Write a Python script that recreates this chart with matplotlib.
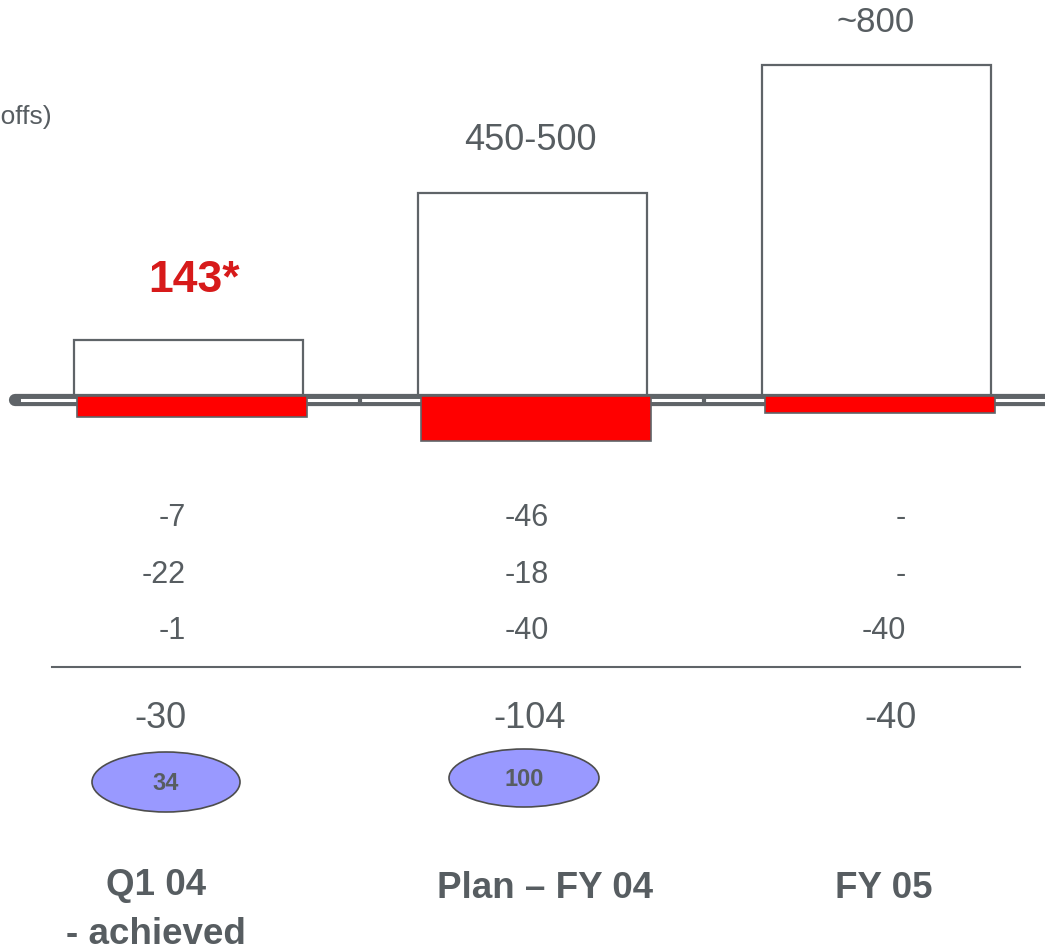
import matplotlib
matplotlib.use("Agg")
import matplotlib.pyplot as plt
from matplotlib.patches import Ellipse

plt.rcParams['font.family'] = ['Liberation Sans', 'DejaVu Sans']

# data
categories = ["Q1 04\n- achieved", "Plan \u2013 FY 04", "FY 05"]
bar_heights = [143, 518, 845]          # white bars (chart units)
bar_labels = ["143*", "450-500", "~800"]
red_heights = [-54, -115, -43]         # red bars below the axis
row1 = ["-7", "-46", "-"]
row2 = ["-22", "-18", "-"]
row3 = ["-1", "-40", "-40"]
totals = ["-30", "-104", "-40"]
bubbles = ["34", "100", None]

GRAY = "#575d61"
EDGE = "#5f6468"
RED_TXT = "#d71a1a"

W, H = 1045, 951
fig = plt.figure(figsize=(W / 100, H / 100), dpi=100)

# main axes: bars on a categorical x scale
k = 143 / 56.0
ax = fig.add_axes([0, 0, 1, 1])
ax.set_xlim(-188.5 / 344, (W - 188.5) / 344)
ax.set_ylim(-(H - 396) * k, 396 * k)
ax.axis("off")

x = [0, 1, 2]
ax.bar(x, bar_heights, width=0.666, color="white", edgecolor=EDGE, linewidth=1.6, zorder=2)

# double base line
px = 1.0 / 344
ax.plot([15 * px - 0.548, 2.6], [-10, -10], color=EDGE, lw=8.8, solid_capstyle="round", zorder=3)
ax.plot([22 * px - 0.548, 2.6], [-10, -10], color="white", lw=2.2, zorder=4)
for sep in [0.5, 1.5]:
    ax.plot([sep, sep], [-4, -16], color=EDGE, lw=3, zorder=5)

ax.bar([i + 0.009 for i in x], red_heights, width=0.669, color="#ff0000",
       edgecolor=EDGE, linewidth=1.2, zorder=6)

# overlay axes in pixel space for the text layout
ov = fig.add_axes([0, 0, 1, 1])
ov.set_xlim(0, W)
ov.set_ylim(H, 0)
ov.axis("off")
ov.patch.set_alpha(0)

ov.text(194, 281, bar_labels[0], ha="center", va="center", fontsize=32,
        fontweight="bold", color=RED_TXT)
ov.text(530, 141, bar_labels[1], ha="center", va="center", fontsize=26, color=GRAY)
ov.text(876, 23, bar_labels[2], ha="center", va="center", fontsize=25, color=GRAY)
# label runs off the left edge of the slide, as in the original
ov.text(52, 117, "(incl. write-offs)", ha="right", va="center", fontsize=19, color=GRAY)

col_x = [186, 527, 906]
col_ha = ["right", "center", "right"]
for row, y in [(row1, 518), (row2, 575), (row3, 631)]:
    for i, v in enumerate(row):
        ov.text(col_x[i], y, v, ha=col_ha[i], va="center", fontsize=22, color=GRAY)

ov.plot([52, 1020], [667, 667], color=EDGE, lw=1.5)

tot_x = [160, 530, 891]
for i, v in enumerate(totals):
    ov.text(tot_x[i], 719, v, ha="center", va="center", fontsize=26, color=GRAY)

bub_pos = [(166, 782, 148, 60), (524, 778, 150, 58)]
for i, v in enumerate(bubbles):
    if v is None:
        continue
    cx, cy, w, h = bub_pos[i]
    ov.add_patch(Ellipse((cx, cy), w, h, facecolor="#9999ff", edgecolor="#4d4d4d", lw=1.2))
    ov.text(cx, cy + 2, v, ha="center", va="center", fontsize=17, fontweight="bold", color=GRAY)

cat_pos = [(156, 910), (545, 889), (884, 889)]
for (cx, cy), c in zip(cat_pos, categories):
    ov.text(cx, cy, c, ha="center", va="center", fontsize=26.5, fontweight="bold",
            color=GRAY, linespacing=1.5)

fig.savefig("out.png", dpi=100)
